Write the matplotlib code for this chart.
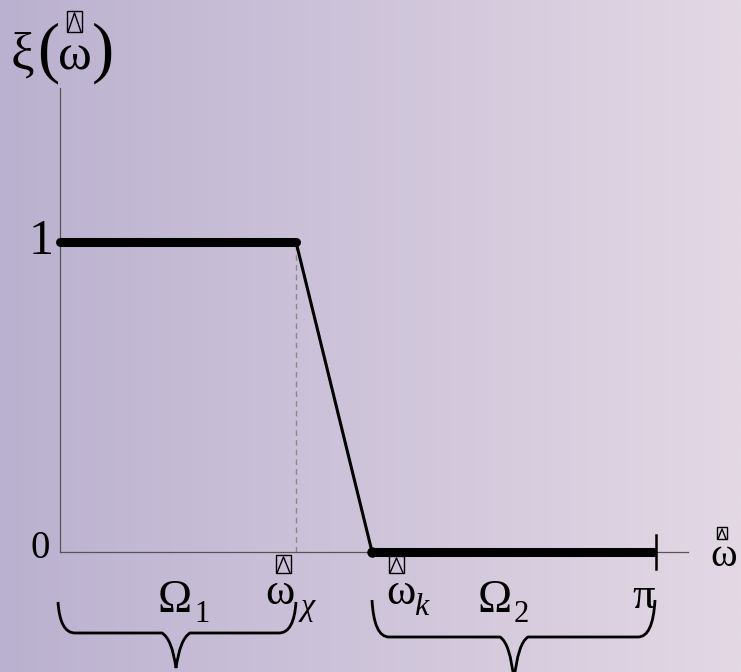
import numpy as np
import matplotlib
matplotlib.use("Agg")
import matplotlib.pyplot as plt
from matplotlib.path import Path
from matplotlib.patches import PathPatch, Rectangle

# frequency response data (x in radians, y normalised)
omega_chi = 1.244
omega_k = 1.645
omega_end = np.pi
x_pass = [0.0, omega_chi]
y_pass = [1.0, 1.0]
x_trans = [omega_chi, omega_k]
y_trans = [1.0, 0.0]
x_stop = [omega_k, omega_end]
y_stop = [0.0, 0.0]
y_ticks = [0, 1]

W, H = 741, 672
BG_LEFT = np.array([186, 177, 208]) / 255.0
BG_RIGHT = np.array([227, 216, 228]) / 255.0
SERIF = "Liberation Serif"

# pixel frame used to place the axes: x=0 -> 60 px, pi -> 656 px; y=0 -> 552 px, 1 -> 242 px
px_per_x = 596 / np.pi
px_per_y = 310.0

fig = plt.figure(figsize=(W / 100, H / 100), dpi=100)

# background + annotations, in pixel coordinates
ax_bg = fig.add_axes([0, 0, 1, 1])
ax_bg.set_xlim(0, W)
ax_bg.set_ylim(H, 0)
ax_bg.axis("off")
grad = np.linspace(0, 1, 256)[None, :, None]
img = BG_LEFT[None, None, :] * (1 - grad) + BG_RIGHT[None, None, :] * grad
ax_bg.imshow(img, extent=(0, W, H, 0), aspect="auto", zorder=0)

# main axes with the curve
ax = fig.add_axes([0, 0, 1, 1])
ax.patch.set_alpha(0)
ax.set_xlim(-60 / px_per_x, (W - 60) / px_per_x)
ax.set_ylim((552 - H) / px_per_y, 552 / px_per_y)
for side in ["top", "right"]:
    ax.spines[side].set_visible(False)
for side in ["left", "bottom"]:
    ax.spines[side].set_position(("data", 0))
    ax.spines[side].set_color("#555555")
    ax.spines[side].set_linewidth(0.9)
ax.spines["left"].set_bounds(0, 1.497)
ax.spines["bottom"].set_bounds(0, 1.054 * np.pi)
ax.set_xticks([])
ax.set_yticks([])

ax.plot([omega_chi, omega_chi], [0, 1], color="#888888", lw=1.0,
        ls=(0, (4, 3)), zorder=2)
ax.plot(x_trans, y_trans, color="black", lw=2.2, zorder=3)
ax.plot(x_pass, y_pass, color="black", lw=6.5, solid_capstyle="round", zorder=4)
ax.plot(x_stop, y_stop, color="black", lw=6.5, solid_capstyle="butt", zorder=4)
ax.plot(x_stop[:1], y_stop[:1], "o", color="black", ms=6.5, zorder=4)
ax.plot([omega_end, omega_end], [-0.055, 0.055], color="black", lw=1.8, zorder=4)

# tick labels
ax.text(-6 / px_per_x, y_ticks[1], "1", family=SERIF, fontsize=36,
        ha="right", va="center")
ax.text(-10 / px_per_x, y_ticks[0] + 0.01, "0", family=SERIF, fontsize=28,
        ha="right", va="center")


def box_mark(x, y, w, h, lw=1.0):
    # the little "missing glyph" box drawn above omega
    ax_bg.add_patch(Rectangle((x, y), w, h, fill=False, ec="black", lw=lw, zorder=5))
    ax_bg.plot([x + 1, x + w / 2, x + w - 1], [y + h, y + 2, y + h],
               color="black", lw=lw, zorder=5)


# axis title xi(omega)
ax_bg.text(11, 68, "ξ", family=SERIF, fontsize=38, va="baseline")
ax_bg.text(37, 70, "(", family=SERIF, fontsize=48, va="baseline")
ax_bg.text(58, 69, "ω", family=SERIF, fontsize=37, va="baseline")
ax_bg.text(92, 70, ")", family=SERIF, fontsize=48, va="baseline")
box_mark(67, 11, 15, 21)

# x-axis name
ax_bg.text(710, 566, "ω", family=SERIF, fontsize=29, va="baseline")
box_mark(717, 527, 10, 12)

# special frequencies
ax_bg.text(265, 604, "ω", family=SERIF, fontsize=32, va="baseline")
ax_bg.text(301, 615, "χ", family=SERIF, fontsize=23, va="baseline", style="italic")
box_mark(276, 555, 15, 18)
ax_bg.text(386, 604, "ω", family=SERIF, fontsize=32, va="baseline")
ax_bg.text(414, 615, "k", family=SERIF, fontsize=23, va="baseline", style="italic")
box_mark(389, 556, 15, 17)
ax_bg.text(632, 608, "π", family=SERIF, fontsize=32, va="baseline")

# region names
ax_bg.text(158, 612, "Ω", family=SERIF, fontsize=33, va="baseline")
ax_bg.text(194, 622, "1", family=SERIF, fontsize=22, va="baseline")
ax_bg.text(478, 612, "Ω", family=SERIF, fontsize=33, va="baseline")
ax_bg.text(514, 622, "2", family=SERIF, fontsize=22, va="baseline")


def brace(x0, x1, xm, y_top, y_line, y_tip):
    verts = [
        (x0, y_top), (x0 + 2, y_line), (x0 + 17, y_line),
        (xm - 14, y_line),
        (xm - 4, y_line + 6), (xm, y_tip),
        (xm + 4, y_line + 6), (xm + 14, y_line),
        (x1 - 17, y_line),
        (x1 - 2, y_line), (x1, y_top),
    ]
    codes = [Path.MOVETO, Path.CURVE3, Path.CURVE3, Path.LINETO,
             Path.CURVE3, Path.CURVE3, Path.CURVE3, Path.CURVE3,
             Path.LINETO, Path.CURVE3, Path.CURVE3]
    ax_bg.add_patch(PathPatch(Path(verts, codes), fill=False, ec="black",
                              lw=2.0, zorder=5))


brace(58, 296, 176, 602, 633, 668)
brace(372, 655, 514, 600, 637, 680)

fig.savefig("out.png", dpi=100)
